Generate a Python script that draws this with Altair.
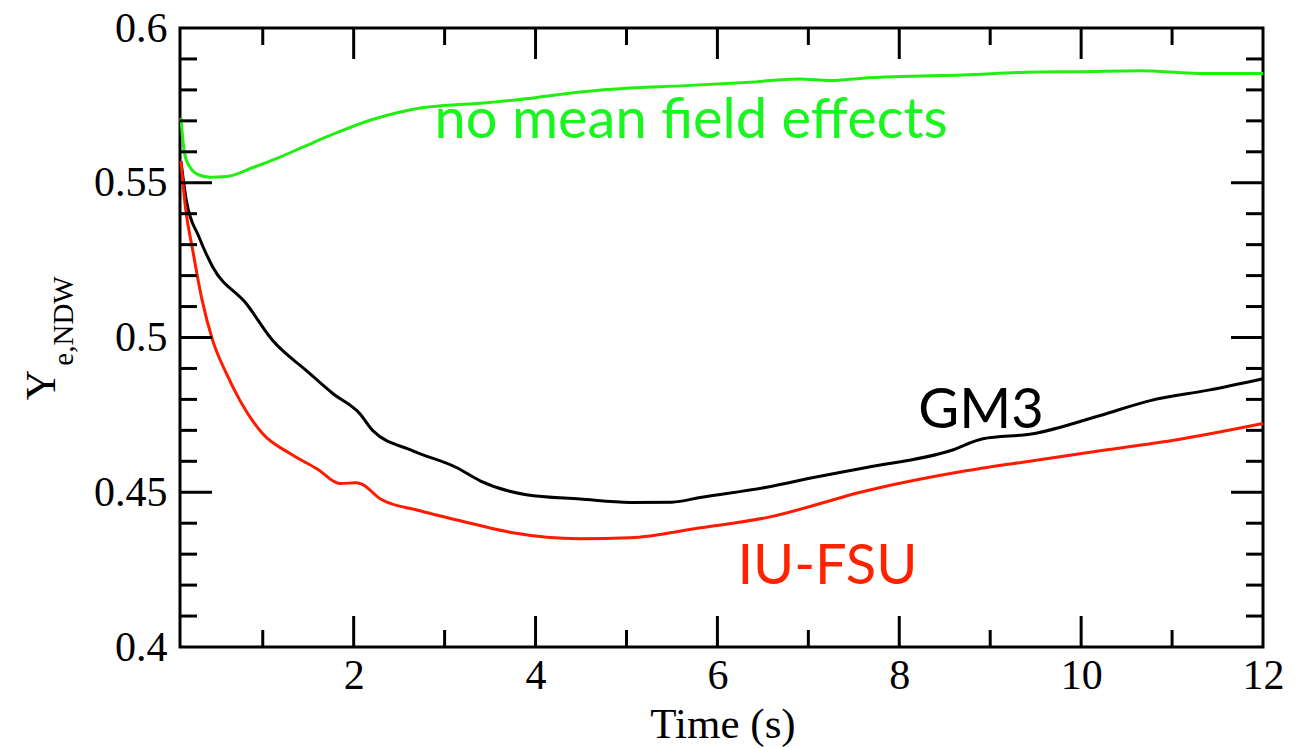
import altair as alt
import pandas as pd

# ---- data ----
green_t = [0.1, 0.14, 0.2, 0.3, 0.42, 0.6, 0.9, 1.19, 1.44, 1.8, 2.18, 2.5, 2.75, 3.0, 3.39, 4.0, 4.49, 5.04, 5.6, 6.36, 6.9, 7.24, 7.6, 8.0, 8.7, 9.4, 10.0, 10.65, 11.3, 12.0]
green_v = [0.571, 0.5595, 0.555, 0.5525, 0.5518, 0.552, 0.555, 0.5583, 0.5615, 0.566, 0.5702, 0.5728, 0.5742, 0.575, 0.5757, 0.5775, 0.5793, 0.5806, 0.5813, 0.5825, 0.5835, 0.583, 0.5838, 0.5843, 0.5848, 0.5857, 0.5859, 0.5862, 0.5853, 0.5853]

gm3_t = [0.1, 0.16, 0.3, 0.45, 0.82, 1.11, 1.48, 1.77, 2.07, 2.21, 2.65, 3.13, 3.39, 3.9, 4.49, 5.04, 5.5, 5.81, 6.54, 7.1, 7.64, 8.56, 8.92, 9.47, 10.21, 10.76, 11.4, 12.0]
gm3_v = [0.557, 0.5443, 0.5324, 0.5228, 0.5109, 0.499, 0.4893, 0.4819, 0.4753, 0.4699, 0.4634, 0.458, 0.4537, 0.4492, 0.4478, 0.4467, 0.4468, 0.4483, 0.4516, 0.455, 0.458, 0.4634, 0.4673, 0.4689, 0.4748, 0.4796, 0.483, 0.4867]

iufsu_t = [0.1, 0.15, 0.23, 0.33, 0.45, 0.6, 0.75, 1.0, 1.3, 1.6, 1.85, 2.03, 2.1, 2.29, 2.73, 3.31, 3.75, 4.49, 5.04, 5.81, 6.54, 7.64, 8.75, 9.47, 10.21, 11.0, 12.0]
iufsu_v = [0.557, 0.542, 0.5282, 0.5125, 0.499, 0.4884, 0.4796, 0.4689, 0.4625, 0.4575, 0.4528, 0.4531, 0.4525, 0.4479, 0.444, 0.4398, 0.4369, 0.435, 0.4353, 0.4385, 0.4418, 0.4505, 0.457, 0.4602, 0.4634, 0.4667, 0.4722]

series_names = ["no mean field effects", "GM3", "IU-FSU"]
series_colors = ["#22ee11", "#000000", "#ff1a00"]

label_texts = ["no mean field effects", "GM3", "IU-FSU"]
label_t = [2.89, 8.21, 6.22]
label_v = [0.5644, 0.4709, 0.4204]
label_colors = ["#19f51e", "#000000", "#ff2200"]

x_tick_labels = [2, 4, 6, 8, 10, 12]
y_tick_labels = [0.4, 0.45, 0.5, 0.55, 0.6]
x_major_ticks = [2, 4, 6, 8, 10]
x_minor_ticks = [1, 3, 5, 7, 9, 11]
y_major_ticks = [0.45, 0.5, 0.55]
y_minor_ticks = [0.41, 0.42, 0.43, 0.44, 0.46, 0.47, 0.48, 0.49, 0.51, 0.52, 0.53, 0.54, 0.56, 0.57, 0.58, 0.59]

# ---- build tables ----
rows = []
for name, ts, vs in zip(series_names, [green_t, gm3_t, iufsu_t], [green_v, gm3_v, iufsu_v]):
    for t, v in zip(ts, vs):
        rows.append({"series": name, "t": t, "v": v})
lines_df = pd.DataFrame(rows)

labels_df = pd.DataFrame({"t": label_t, "v": label_v, "label": label_texts, "c": label_colors})

W, H = 1083, 619
xs = alt.Scale(domain=[0.09, 12], nice=False, zero=False)
ys = alt.Scale(domain=[0.4, 0.6], nice=False, zero=False)

x_axis = alt.Axis(values=x_tick_labels, ticks=False, tickSize=0, domain=False, grid=False,
                  labelFont="Liberation Serif", labelFontSize=42, labelPadding=8,
                  labelColor="black", labelFlush=False, labelOverlap=False, title=None)
y_axis = alt.Axis(values=y_tick_labels, ticks=False, tickSize=0, domain=False, grid=False,
                  labelFont="Liberation Serif", labelFontSize=42, labelPadding=13,
                  labelColor="black", labelFlush=False, labelOverlap=False, format=".2~f", title=None)

X = alt.X("t:Q", scale=xs, axis=x_axis, title=None)
Y = alt.Y("v:Q", scale=ys, axis=y_axis, title=None)

lines = alt.Chart(lines_df).mark_line(strokeWidth=3, interpolate="monotone").encode(
    x=X, y=Y,
    color=alt.Color("series:N", scale=alt.Scale(domain=series_names, range=series_colors), legend=None),
)

texts = alt.Chart(labels_df).mark_text(font="Lato", fontSize=56, align="left", baseline="alphabetic").encode(
    x=X, y=Y, text="label:N", color=alt.Color("c:N", scale=None)
)

def xticks(vals, length):
    df = pd.DataFrame({"t": vals})
    bottom = alt.Chart(df).mark_rule(color="black", strokeWidth=3).encode(
        x=X, y=alt.value(H), y2=alt.value(H - length))
    top = alt.Chart(df).mark_rule(color="black", strokeWidth=3).encode(
        x=X, y=alt.value(0), y2=alt.value(length))
    return [bottom, top]

def yticks(vals, length):
    df = pd.DataFrame({"v": vals})
    left = alt.Chart(df).mark_rule(color="black", strokeWidth=3).encode(
        y=Y, x=alt.value(0), x2=alt.value(length))
    right = alt.Chart(df).mark_rule(color="black", strokeWidth=3).encode(
        y=Y, x=alt.value(W), x2=alt.value(W - length))
    return [left, right]

tick_layers = xticks(x_major_ticks, 31) + xticks(x_minor_ticks, 17) + yticks(y_major_ticks, 32) + yticks(y_minor_ticks, 17)

title_df = pd.DataFrame({"s": ["Time (s)"]})
x_title = alt.Chart(title_df).mark_text(font="Liberation Serif", fontSize=43, align="center",
                                        baseline="alphabetic", color="black").encode(
    x=alt.value(543), y=alt.value(710), text="s:N")

ytitle_df = pd.DataFrame({"s": ["Y"]})
y_title = alt.Chart(ytitle_df).mark_text(font="Liberation Serif", fontSize=42, align="center",
                                         baseline="middle", angle=270, color="black").encode(
    x=alt.value(-138), y=alt.value(357), text="s:N")
ysub_df = pd.DataFrame({"s": ["e,NDW"]})
y_sub = alt.Chart(ysub_df).mark_text(font="Liberation Serif", fontSize=29, align="center",
                                     baseline="middle", angle=270, color="black").encode(
    x=alt.value(-116), y=alt.value(293), text="s:N")

chart = alt.layer(lines, *tick_layers, texts, x_title, y_title, y_sub).properties(
    width=W, height=H,
    autosize=alt.AutoSizeParams(type="none"),
    padding={"left": 172, "top": 20, "right": 37, "bottom": 100},
).configure_view(stroke="black", strokeWidth=3)

chart.save("out.html", embed_options={"renderer": "svg", "actions": False})
